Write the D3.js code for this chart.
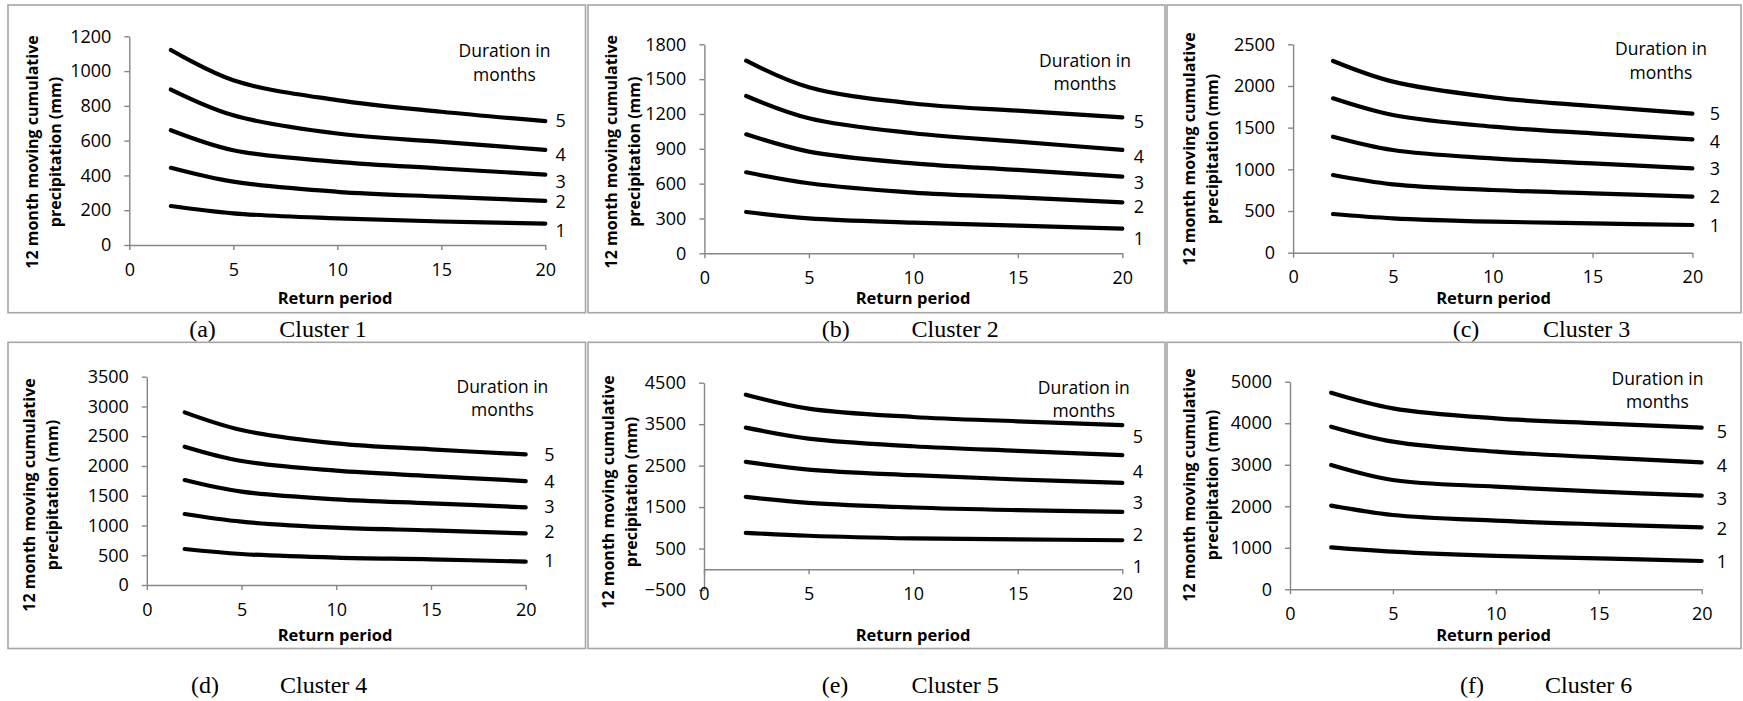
<!DOCTYPE html>
<html>
<head>
<meta charset="utf-8">
<script src="https://cdn.jsdelivr.net/npm/d3@7"></script>
<style>
  body { margin: 0; background: #fff; }
  svg { display: block; }
</style>
</head>
<body>
<script>
// Return periods (x) and durations (series) shared by every cluster
const returnPeriods = [2, 5, 10, 15, 20];
const durations = [1, 2, 3, 4, 5];
const xTicks = [0, 5, 10, 15, 20];

// 12 month moving cumulative precipitation (mm), one row per duration 1..5
const cluster1 = [
  [224, 182, 153, 135, 123],
  [444, 364, 306, 278, 254],
  [660, 545, 478, 440, 405],
  [894, 746, 641, 593, 547],
  [1121, 947, 833, 766, 712]
];
const cluster2 = [
  [356, 301, 264, 238, 212],
  [698, 603, 523, 482, 439],
  [1025, 876, 775, 718, 660],
  [1355, 1163, 1034, 962, 890],
  [1659, 1430, 1290, 1228, 1171]
];
const cluster3 = [
  [464, 412, 372, 352, 332],
  [932, 820, 752, 712, 672],
  [1392, 1232, 1132, 1072, 1012],
  [1852, 1652, 1512, 1432, 1360],
  [2300, 2052, 1864, 1760, 1668]
];
const cluster4 = [
  [605, 521, 459, 431, 392],
  [1193, 1064, 963, 918, 868],
  [1764, 1568, 1439, 1372, 1305],
  [2324, 2083, 1921, 1831, 1747],
  [2901, 2604, 2380, 2279, 2195]
];
const cluster5 = [
  [880, 808, 744, 720, 700],
  [1747, 1603, 1490, 1426, 1384],
  [2590, 2405, 2269, 2165, 2084],
  [3417, 3152, 2967, 2855, 2753],
  [4211, 3874, 3673, 3569, 3478]
];
const cluster6 = [
  [1011, 907, 803, 746, 682],
  [2015, 1790, 1653, 1565, 1493],
  [2994, 2633, 2472, 2352, 2255],
  [3917, 3556, 3315, 3178, 3058],
  [4735, 4358, 4117, 3997, 3893]
];

// y axis tick labels per cluster
const yTicks1 = [0, 200, 400, 600, 800, 1000, 1200];
const yTicks2 = [0, 300, 600, 900, 1200, 1500, 1800];
const yTicks3 = [0, 500, 1000, 1500, 2000, 2500];
const yTicks4 = [0, 500, 1000, 1500, 2000, 2500, 3000, 3500];
const yTicks5 = [-500, 500, 1500, 2500, 3500, 4500];
const yTicks6 = [0, 1000, 2000, 3000, 4000, 5000];

// value where each duration label (1..5) sits at the right of the lines
const labelAt1 = [86, 249, 364, 523, 715];
const labelAt2 = [129, 401, 608, 832, 1133];
const labelAt3 = [332, 672, 1013, 1332, 1673];
const labelAt4 = [403, 907, 1315, 1747, 2196];
const labelAt5 = [72, 845, 1601, 2350, 3195];
const labelAt6 = [681, 1469, 2191, 2976, 3795];

const letters = ["(a)", "(b)", "(c)", "(d)", "(e)", "(f)"];
const clusterNames = ["Cluster 1", "Cluster 2", "Cluster 3", "Cluster 4", "Cluster 5", "Cluster 6"];
const clusterData = [cluster1, cluster2, cluster3, cluster4, cluster5, cluster6];
const clusterTicks = [yTicks1, yTicks2, yTicks3, yTicks4, yTicks5, yTicks6];
const clusterLabels = [labelAt1, labelAt2, labelAt3, labelAt4, labelAt5, labelAt6];

// layout of each panel (pixels)
const layout = [
  { frame: [8, 5, 585.5, 312.7], plot: [129.3, 545.3, 36.3, 245], xt: [335, 297.7], yt: [32, 55.7, 152],
    leg: [504.5, 50.7, 75], lx: 560.7, cap: [202.5, 279.3, 329.3] },
  { frame: [588, 5, 1165, 312.7], plot: [704.4, 1122.3, 44.3, 253.3], xt: [913, 297.7], yt: [611, 634.6, 151.7],
    leg: [1085, 60.7, 83.3], lx: 1139, cap: [835.7, 911.5, 329.3] },
  { frame: [1167, 5, 1741, 312.7], plot: [1293.1, 1692.4, 44.3, 252.7], xt: [1493.5, 297.7], yt: [1189.7, 1212, 149],
    leg: [1661, 49, 72.7], lx: 1715, cap: [1466, 1543, 329.3] },
  { frame: [8, 342.3, 585.5, 648.5], plot: [146.8, 525.7, 376.7, 585], xt: [335, 635], yt: [29, 52.7, 495],
    leg: [502.4, 386.7, 410], lx: 549.4, cap: [205, 280, 685] },
  { frame: [588, 342.3, 1165, 648.5], plot: [704, 1122.3, 382.7, 590], xt: [913, 635], yt: [608, 631.6, 492],
    leg: [1083.8, 387.3, 410.7], lx: 1138, cap: [835, 911.5, 685] },
  { frame: [1167, 342.3, 1741, 648.5], plot: [1290, 1701.7, 381.7, 589.3], xt: [1493.5, 635], yt: [1189, 1212, 485],
    leg: [1657.5, 378.3, 401.7], lx: 1722, cap: [1472, 1545, 685] }
];

const W = 1743, H = 701;
const sans = "'Open Sans', 'Noto Sans', sans-serif";
const axisGray = "#868686";

const svg = d3.select("body").append("svg")
  .attr("width", W)
  .attr("height", H)
  .style("background", "#fff");

layout.forEach((L, p) => {
  const g = svg.append("g");
  const [fx0, fy0, fx1, fy1] = L.frame;

  // panel frame
  g.append("rect")
    .attr("x", fx0).attr("y", fy0)
    .attr("width", fx1 - fx0).attr("height", fy1 - fy0)
    .attr("fill", "none")
    .attr("stroke", "#a6a6a6")
    .attr("stroke-width", 1.6);

  const ticks = clusterTicks[p];
  const x = d3.scaleLinear().domain([0, 20]).range([L.plot[0], L.plot[1]]);
  const y = d3.scaleLinear().domain([ticks[0], ticks[ticks.length - 1]]).range([L.plot[3], L.plot[2]]);

  // y axis
  const yAxis = g.append("g")
    .attr("transform", `translate(${x(0)},0)`)
    .call(d3.axisLeft(y).tickValues(ticks).tickSize(5).tickSizeOuter(0).tickPadding(13).tickFormat(d3.format("d")));

  // x axis sits on value 0
  const xAxis = g.append("g")
    .attr("transform", `translate(0,${y(0)})`)
    .call(d3.axisBottom(x).tickValues(xTicks).tickSize(5).tickSizeOuter(0).tickPadding(13));

  [yAxis, xAxis].forEach(a => {
    a.select(".domain").attr("stroke", axisGray).attr("stroke-width", 1.4);
    a.selectAll(".tick line").attr("stroke", axisGray).attr("stroke-width", 1.4);
    a.selectAll(".tick text")
      .attr("fill", "#000")
      .style("font-family", sans)
      .style("font-size", "18px");
  });

  // curves
  const line = d3.line()
    .x((d, i) => x(returnPeriods[i]))
    .y(d => y(d))
    .curve(d3.curveCatmullRom.alpha(0.5));

  g.selectAll("path.series")
    .data(clusterData[p])
    .join("path")
    .attr("class", "series")
    .attr("d", line)
    .attr("fill", "none")
    .attr("stroke", "#000")
    .attr("stroke-width", 4.2)
    .attr("stroke-linecap", "round");

  // duration labels
  g.selectAll("text.dur")
    .data(durations)
    .join("text")
    .attr("class", "dur")
    .attr("x", L.lx)
    .attr("y", (d, i) => y(clusterLabels[p][i]))
    .attr("dy", "0.36em")
    .attr("text-anchor", "middle")
    .style("font-family", sans)
    .style("font-size", "18px")
    .text(d => d);

  // legend title
  g.append("text")
    .attr("x", L.leg[0]).attr("y", L.leg[1]).attr("dy", "0.36em")
    .attr("text-anchor", "middle")
    .style("font-family", sans).style("font-size", "17.5px")
    .text("Duration in");
  g.append("text")
    .attr("x", L.leg[0]).attr("y", L.leg[2]).attr("dy", "0.36em")
    .attr("text-anchor", "middle")
    .style("font-family", sans).style("font-size", "17.5px")
    .text("months");

  // axis titles
  g.append("text")
    .attr("x", L.xt[0]).attr("y", L.xt[1]).attr("dy", "0.36em")
    .attr("text-anchor", "middle")
    .style("font-family", sans).style("font-size", "16.5px").style("font-weight", "bold")
    .text("Return period");

  ["12 month moving cumulative", "precipitation (mm)"].forEach((t, k) => {
    g.append("text")
      .attr("transform", `translate(${L.yt[k]},${L.yt[2]}) rotate(-90)`)
      .attr("dy", "0.36em")
      .attr("text-anchor", "middle")
      .style("font-family", sans).style("font-size", "16px").style("font-weight", "bold")
      .text(t);
  });

  // caption under the panel
  g.append("text")
    .attr("x", L.cap[0]).attr("y", L.cap[2]).attr("dy", "0.33em")
    .attr("text-anchor", "middle")
    .style("font-family", "'Liberation Serif', 'Times New Roman', serif").style("font-size", "24px")
    .text(letters[p]);
  g.append("text")
    .attr("x", L.cap[1]).attr("y", L.cap[2]).attr("dy", "0.33em")
    .style("font-family", "'Liberation Serif', 'Times New Roman', serif").style("font-size", "24px")
    .text(clusterNames[p]);
});
</script>
</body>
</html>
